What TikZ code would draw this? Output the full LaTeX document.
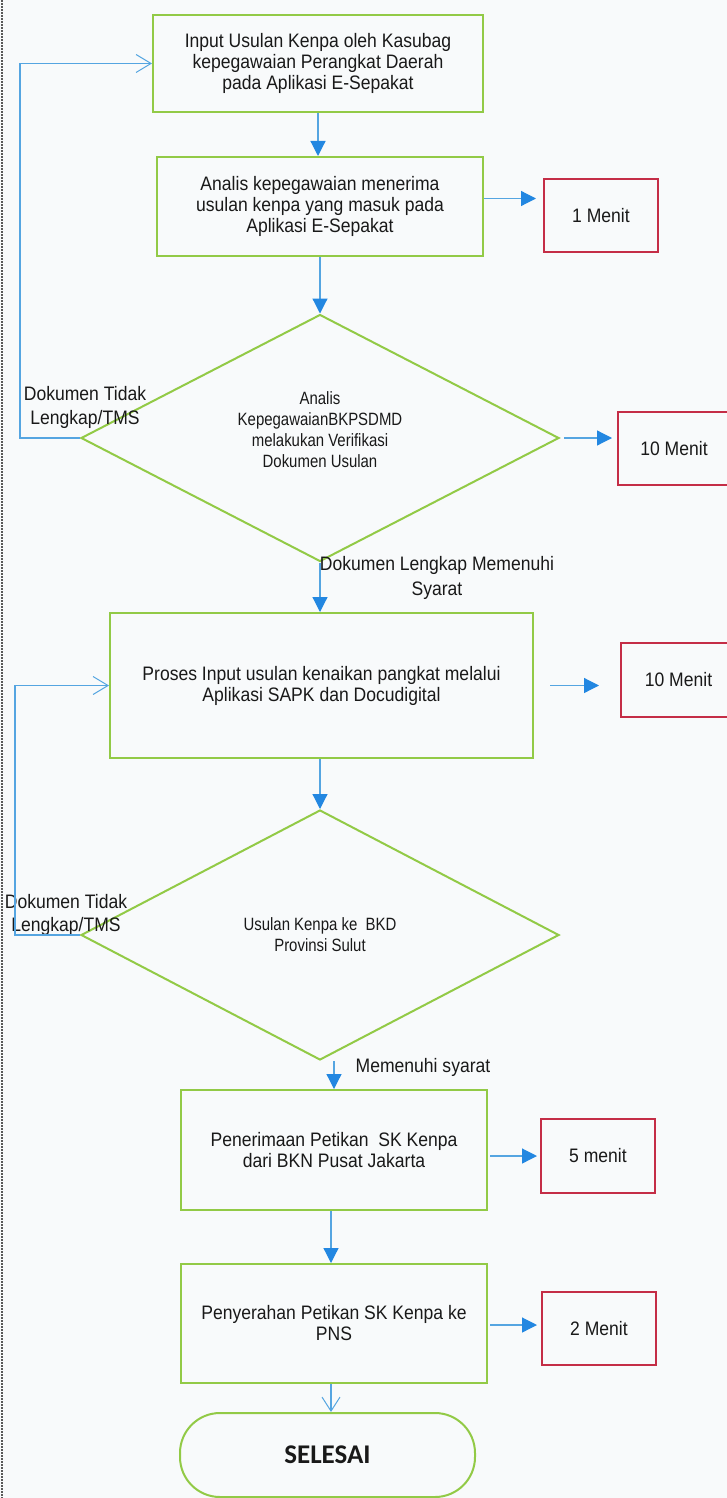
\documentclass[tikz,border=0pt]{standalone}
\usepackage{fontspec}
\setmainfont{Liberation Sans}[FakeStretch=0.9]
\newfontfamily\narrowfont{Liberation Sans}[FakeStretch=0.84]
\newfontfamily\endfont{Carlito}
\usetikzlibrary{shapes.geometric,arrows.meta}
\definecolor{boxgreen}{RGB}{146,202,70}
\definecolor{linkblue}{RGB}{85,165,225}
\definecolor{tipblue}{RGB}{35,135,225}
\definecolor{timered}{RGB}{196,45,70}
\definecolor{txt}{RGB}{25,25,25}
\definecolor{bg}{RGB}{248,250,251}
\begin{document}
\begin{tikzpicture}[x=1pt,y=-1pt,
  procbox/.style={draw=boxgreen, line width=2pt, text=txt, align=center, inner sep=0pt,
    font=\fontsize{19.5}{21}\selectfont},
  timebox/.style={draw=timered, line width=2pt, text=txt, align=center, inner sep=0pt,
    minimum width=114, minimum height=73, font=\fontsize{19.5}{22}\selectfont},
  decision/.style={diamond, draw=boxgreen, line width=2pt, aspect=2, inner sep=0pt,
    text=txt, align=center, font=\narrowfont\fontsize{17.8}{21}\selectfont},
  dtext/.style={text=txt, align=center, inner sep=0pt, font=\narrowfont\fontsize{17.8}{21}\selectfont},
  lbl/.style={text=txt, align=center, inner sep=0pt, font=\fontsize{19.5}{24}\selectfont},
  arr/.style={draw=linkblue, line width=1.2pt, -{Triangle[length=15pt,width=15pt,color=tipblue]}},
  fb/.style={draw=linkblue, line width=1.2pt, -{Straight Barb[length=15pt,width=18pt,line width=1pt]}},
  openarr/.style={draw=linkblue, line width=1.2pt, -{Straight Barb[length=14pt,width=18pt,line width=1pt]}},
  endbox/.style={draw=boxgreen, line width=2pt, rounded corners=40pt, text=txt, inner sep=0pt,
    font=\endfont\bfseries\fontsize{27}{30}\selectfont}
]
\useasboundingbox (0,0) rectangle (727,1498);
\fill[bg] (0,0) rectangle (727,1498);
\draw[gray!70!black, line width=1.2pt, dash pattern=on 2pt off 1pt] (2,0) -- (2,1498);

% process boxes
\node[procbox, minimum width=330, minimum height=97] (b1) at (318,63.5)
  {Input Usulan Kenpa oleh Kasubag\\kepegawaian Perangkat Daerah\\pada Aplikasi E-Sepakat};
\node[procbox, minimum width=326, minimum height=99] (b2) at (320,206.5)
  {Analis kepegawaian menerima\\usulan kenpa yang masuk pada\\Aplikasi E-Sepakat};
\node[decision, minimum width=478, minimum height=247] (d1) at (320,438) {};
\node[dtext] (d1t) at (320,430) {Analis\\KepegawaianBKPSDMD\\melakukan Verifikasi\\Dokumen Usulan};
\node[procbox, minimum width=423, minimum height=145] (b3) at (321.5,685.5)
  {Proses Input usulan kenaikan pangkat melalui\\Aplikasi SAPK dan Docudigital};
\node[decision, minimum width=478, minimum height=250] (d2) at (320,935)
  {Usulan Kenpa ke\ \ BKD\\Provinsi Sulut};
\node[procbox, minimum width=306, minimum height=120] (b4) at (334,1150)
  {Penerimaan Petikan\ \ SK Kenpa\\dari BKN Pusat Jakarta};
\node[procbox, minimum width=306, minimum height=119] (b5) at (334,1323.5)
  {Penyerahan Petikan SK Kenpa ke\\PNS};
\node[endbox, minimum width=295, minimum height=84] (sel) at (327.5,1455) {SELESAI};

% time boxes
\node[timebox] (t1) at (601,215.5) {1 Menit};
\node[timebox, minimum width=112] (t2) at (674,448.5) {10 Menit};
\node[timebox, minimum width=115, minimum height=74] (t3) at (678.5,680) {10 Menit};
\node[timebox, minimum height=74] (t4) at (598,1156) {5 menit};
\node[timebox] (t5) at (599,1328.5) {2 Menit};

% labels
\node[lbl] (l1) at (85,407.5) {Dokumen Tidak\\Lengkap/TMS};
\node[lbl, font=\fontsize{19.5}{23}\selectfont] (l2) at (66,915) {Dokumen Tidak\\Lengkap/TMS};
\node[lbl, font=\fontsize{19.5}{25}\selectfont] (l3) at (437,577.5) {Dokumen Lengkap Memenuhi\\Syarat};
\node[lbl] (l4) at (423,1067) {Memenuhi syarat};

% main flow
\draw[arr] (b1.south) -- (b1.south |- b2.north);
\draw[arr] (b2.south) -- (d1.north);
\draw[arr] (d1.south) -- (d1.south |- b3.north);
\draw[arr] (b3.south -| d2.north) -- (d2.north);
\draw[arr] (b4.north |- d2.south) -- (b4.north);
\draw[arr] ([xshift=-3]b4.south) -- ([xshift=-3]b5.north);
\draw[openarr] ([xshift=-3]b5.south) -- ([xshift=-3]b5.south |- sel.north);

% time arrows
\draw[arr, shorten >=7pt] ([yshift=8]b2.east) -- ([yshift=8]b2.east -| t1.west);
\draw[arr, shorten <=4pt, shorten >=5pt] (d1.east) -- (d1.east -| t2.west);
\draw[arr, shorten <=16pt, shorten >=21pt] (b3.east) -- (b3.east -| t3.west);
\draw[arr, shorten <=2pt, shorten >=3pt] ([yshift=-6]b4.east) -- ([yshift=-6]b4.east -| t4.west);
\draw[arr, shorten <=2pt, shorten >=4pt] ([yshift=-1.5]b5.east) -- ([yshift=-1.5]b5.east -| t5.west);

% feedback loops
\draw[fb] (d1.west) -- ++(-60,0) |- (b1.west);
\draw[fb] (d2.west) -- ++(-65,0) |- (b3.west);
\end{tikzpicture}
\end{document}
